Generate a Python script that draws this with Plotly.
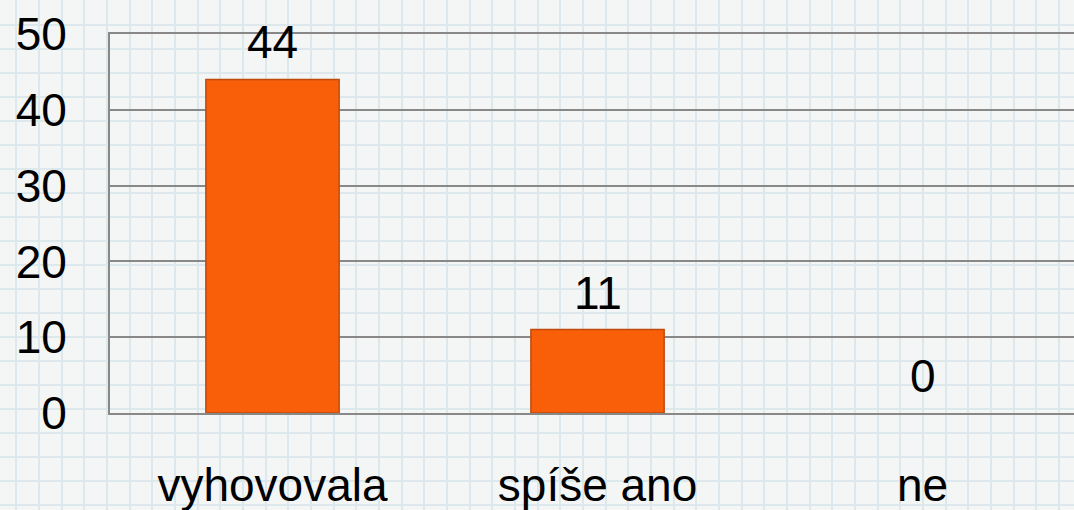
import plotly.graph_objects as go

categories = ["vyhovovala", "spíše ano", "ne"]
values = [44, 11, 0]
y_ticks = [0, 10, 20, 30, 40, 50]

font_family = "Liberation Sans, Arial, sans-serif"

fig = go.Figure()

# graph-paper background: an empty subplot spanning the whole page, only its grid shows
fig.add_trace(go.Scatter(x=[None], y=[None], xaxis="x", yaxis="y",
                         showlegend=False, hoverinfo="skip"))

fig.add_trace(go.Bar(
    x=categories,
    y=values,
    xaxis="x2",
    yaxis="y2",
    marker=dict(color="#f95f09",
                line=dict(color="#c04a0c", width=[1.5 if v > 0 else 0 for v in values])),
    showlegend=False,
))

for cat, val in zip(categories, values):
    fig.add_annotation(
        x=cat, y=val, xref="x2", yref="y2",
        text=str(val), showarrow=False,
        yanchor="bottom", yshift=9,
        font=dict(family=font_family, size=46, color="#000000"),
    )

fig.update_layout(
    width=1074,
    height=510,
    autosize=False,
    margin=dict(l=0, r=0, t=0, b=0, pad=0),
    paper_bgcolor="#f4f5f5",
    plot_bgcolor="rgba(0,0,0,0)",
    font=dict(family=font_family, color="#000000"),
    bargap=0.59,
    xaxis=dict(
        domain=[0, 1], range=[0, 1074], tick0=16.2, dtick=22.67,
        showgrid=True, gridcolor="#dce8eb", gridwidth=2,
        showticklabels=False, zeroline=False, fixedrange=True, automargin=False,
    ),
    yaxis=dict(
        domain=[0, 1], range=[510, 0], tick0=1, dtick=24,
        showgrid=True, gridcolor="#dce8eb", gridwidth=2,
        showticklabels=False, zeroline=False, fixedrange=True, automargin=False,
    ),
    xaxis2=dict(
        domain=[110 / 1074, 1], anchor="y2",
        type="category", range=[-0.5, 2.466],
        showgrid=False, zeroline=False, automargin=False,
        showline=True, mirror=True, linecolor="#888888", linewidth=2,
        ticks="", ticklabelstandoff=31,
        tickfont=dict(family=font_family, size=46, color="#000000"),
    ),
    yaxis2=dict(
        domain=[1 - 413 / 510, 1 - 34 / 510], anchor="x2",
        range=[0, 50], tickvals=y_ticks, automargin=False,
        showgrid=True, gridcolor="#888888", gridwidth=2,
        zeroline=False,
        showline=True, linecolor="#888888", linewidth=2,
        ticks="", ticklabelstandoff=32,
        tickfont=dict(family=font_family, size=46, color="#000000"),
    ),
)

fig.write_html(
    "out.html",
    config={"displayModeBar": False},
    post_script="document.body.style.margin='0';document.body.style.overflow='hidden';",
)
